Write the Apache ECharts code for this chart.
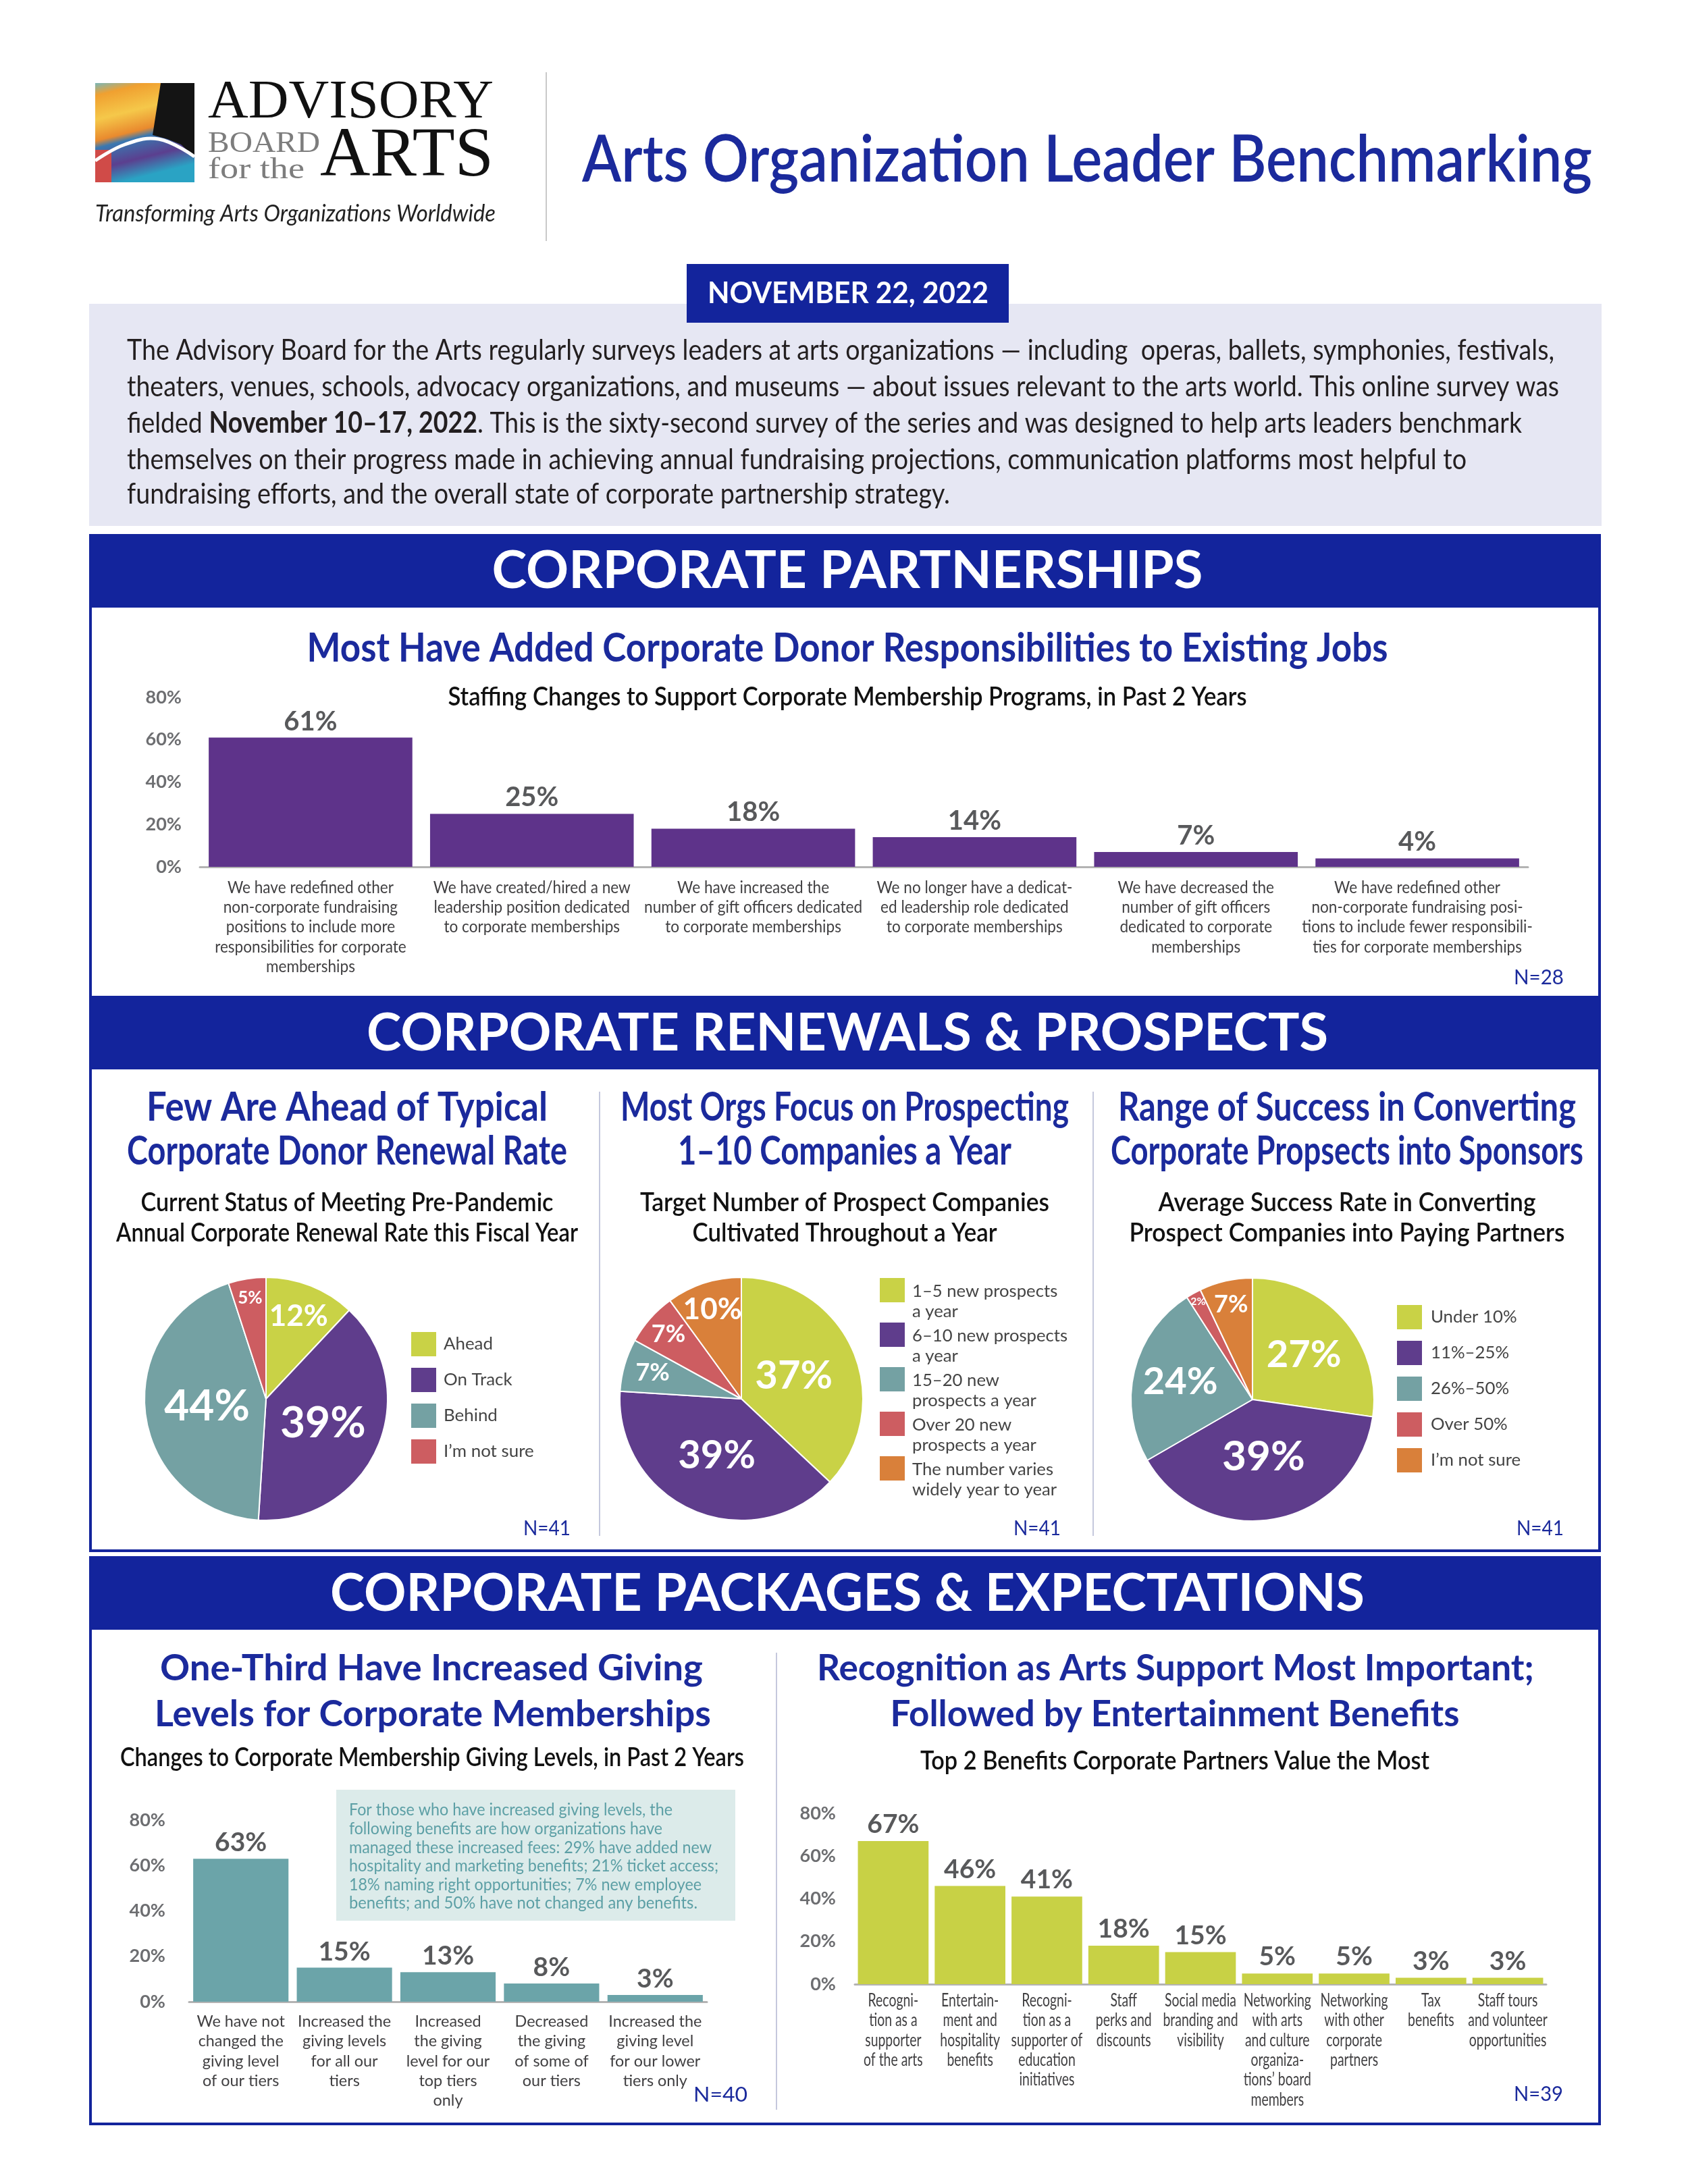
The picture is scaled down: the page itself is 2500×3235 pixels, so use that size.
<!DOCTYPE html>
<html><head><meta charset="utf-8"><title>Arts Organization Leader Benchmarking</title>
<script src="https://cdn.jsdelivr.net/npm/echarts@6/dist/echarts.min.js"></script>
<style>html,body{margin:0;padding:0;background:#fff;}#chart{width:2500px;height:3235px;}</style>
</head><body><div id="chart"></div>
<script>
// ================= DATA =================
const staffingCategories = [
  'We have redefined other\nnon-corporate fundraising\npositions to include more\nresponsibilities for corporate\nmemberships',
  'We have created/hired a new\nleadership position dedicated\nto corporate memberships',
  'We have increased the\nnumber of gift officers dedicated\nto corporate memberships',
  'We no longer have a dedicat-\ned leadership role dedicated\nto corporate memberships',
  'We have decreased the\nnumber of gift officers\ndedicated to corporate\nmemberships',
  'We have redefined other\nnon-corporate fundraising posi-\ntions to include fewer responsibili-\nties for corporate memberships'
];
const staffingValues = [61, 25, 18, 14, 7, 4];

const renewalNames = ['Ahead', 'On Track', 'Behind', 'I’m not sure'];
const renewalValues = [12, 39, 44, 5];

const prospectNames = ['1–5 new prospects\na year', '6–10 new prospects\na year', '15–20 new\nprospects a year', 'Over 20 new\nprospects a year', 'The number varies\nwidely year to year'];
const prospectValues = [37, 39, 7, 7, 10];

const successNames = ['Under 10%', '11%–25%', '26%–50%', 'Over 50%', 'I’m not sure'];
const successValues = [27, 39, 24, 2, 7];

const givingCategories = [
  'We have not\nchanged the\ngiving level\nof our tiers',
  'Increased the\ngiving levels\nfor all our\ntiers',
  'Increased\nthe giving\nlevel for our\ntop tiers\nonly',
  'Decreased\nthe giving\nof some of\nour tiers',
  'Increased the\ngiving level\nfor our lower\ntiers only'
];
const givingValues = [63, 15, 13, 8, 3];

const benefitCategories = [
  'Recogni-\ntion as a\nsupporter\nof the arts',
  'Entertain-\nment and\nhospitality\nbenefits',
  'Recogni-\ntion as a\nsupporter of\neducation\ninitiatives',
  'Staff\nperks and\ndiscounts',
  'Social media\nbranding and\nvisibility',
  'Networking\nwith arts\nand culture\norganiza-\ntions’ board\nmembers',
  'Networking\nwith other\ncorporate\npartners',
  'Tax\nbenefits',
  'Staff tours\nand volunteer\nopportunities'
];
const benefitValues = [67, 46, 41, 18, 15, 5, 5, 3, 3];

const percentAxis = { min: 0, max: 80, interval: 20 };
const sampleSizes = ['N=28', 'N=41', 'N=41', 'N=41', 'N=40', 'N=39'];

const introLines = [
  'The Advisory Board for the Arts regularly surveys leaders at arts organizations — including  operas, ballets, symphonies, festivals,',
  'theaters, venues, schools, advocacy organizations, and museums — about issues relevant to the arts world. This online survey was',
  'fielded **November 10–17, 2022**. This is the sixty-second survey of the series and was designed to help arts leaders benchmark',
  'themselves on their progress made in achieving annual fundraising projections, communication platforms most helpful to',
  'fundraising efforts, and the overall state of corporate partnership strategy.'
];
const calloutLines = [
  'For those who have increased giving levels, the',
  'following benefits are how organizations have',
  'managed these increased fees: 29% have added new',
  'hospitality and marketing benefits; 21% ticket access;',
  '18% naming right opportunities; 7% new employee',
  'benefits; and 50% have not changed any benefits.'
];

// ================= STYLE =================
const SANS = "Lato, 'Open Sans', 'Noto Sans', sans-serif";
const SERIF = "'Liberation Serif', 'DejaVu Serif', serif";
const BLUE = '#13249c', TBLUE = '#1b2a9c';
const LIME = '#c9d246', PURPLE = '#5f3d8c', TEAL = '#74a1a3', RED = '#cd5d61', ORANGE = '#d9803a';
const renewalColors = [LIME, PURPLE, TEAL, RED];
const prospectColors = [LIME, PURPLE, TEAL, RED, ORANGE];
const successColors = [LIME, PURPLE, TEAL, RED, ORANGE];

const mctx = document.createElement('canvas').getContext('2d');
function tw(text, font) { mctx.font = '10px serif'; mctx.font = font; return mctx.measureText(text).width; }
function fstr(size, weight, family, style) { return (style || 'normal') + ' ' + (weight || 'normal') + ' ' + size + 'px ' + family; }
function fitSize(text, target, maxSize, weight, family) {
  const w = tw(text, fstr(100, weight, family));
  return Math.min(maxSize, Math.round(target / w * 100 * 10) / 10);
}

// graphic text fitted to a target width (horizontal scale)
function T(text, x, y, w, size, o) {
  o = o || {};
  const font = fstr(size, o.weight, o.family || SANS, o.style);
  const sx = w ? w / tw(text, font) : (o.sx || 1);
  const al = o.align || 'center';
  return { type: 'text', x: x, y: y, scaleX: sx, scaleY: 1, originX: 0, originY: 0, z: 10, silent: true,
    style: { text: text, font: font, fill: o.color || '#222', align: al, textAlign: al, verticalAlign: 'middle', textVerticalAlign: 'middle' } };
}
function segLine(line, x, y, w, size, color) {
  const parts = line.split('**').map((t, i) => ({ text: t, bold: i % 2 === 1 })).filter(p => p.text.length);
  const fonts = parts.map(p => fstr(size, p.bold ? 'bold' : 'normal', SANS));
  const widths = parts.map((p, i) => tw(p.text, fonts[i]));
  const sx = w / widths.reduce((a, b) => a + b, 0);
  let cx = x; const out = [];
  parts.forEach((p, i) => {
    out.push({ type: 'text', x: cx, y: y, scaleX: sx, scaleY: 1, originX: 0, originY: 0, z: 10, silent: true,
      style: { text: p.text, font: fonts[i], fill: color, align: 'left', textAlign: 'left', verticalAlign: 'middle', textVerticalAlign: 'middle' } });
    cx += widths[i] * sx;
  });
  return out;
}
function rect(x, y, w, h, fill, z) { return { type: 'rect', z: z || 0, silent: true, shape: { x: x, y: y, width: w, height: h }, style: { fill: fill } }; }
function frame(x, y, w, h) { return { type: 'rect', z: 1, silent: true, shape: { x: x, y: y, width: w, height: h }, style: { fill: null, stroke: BLUE, lineWidth: 4 } }; }
function vline(x, y1, y2, color) { return { type: 'line', z: 1, silent: true, shape: { x1: x, y1: y1, x2: x, y2: y2 }, style: { stroke: color, lineWidth: 2 } }; }

// ================= GRAPHIC (page furniture) =================
const els = [];
// logo
els.push({ type: 'rect', z: 2, silent: true, shape: { x: 141, y: 123, width: 147, height: 147 },
  style: { fill: { type: 'linear', x: 0, y: 0, x2: 0.25, y2: 1, colorStops: [
    { offset: 0, color: '#79b7b9' }, { offset: 0.12, color: '#f0a030' }, { offset: 0.35, color: '#f5c84a' },
    { offset: 0.55, color: '#e98a2e' }, { offset: 0.62, color: '#3a78b0' }, { offset: 0.82, color: '#5b3f8f' }, { offset: 1, color: '#2aa3c4' }] } } });
els.push(rect(141, 222, 24, 48, '#d04b48', 3));
els.push({ type: 'polygon', z: 4, silent: true, shape: { points: [[238, 123], [288, 123], [288, 232], [268, 214], [248, 206], [226, 200]] }, style: { fill: '#141414' } });
els.push({ type: 'polyline', z: 5, silent: true, shape: { points: [[141, 238], [185, 214], [235, 206], [288, 232]], smooth: 0.4 }, style: { stroke: '#fff', lineWidth: 5, fill: null } });
els.push(T('ADVISORY', 308, 153, 423, 80, { family: SERIF, color: '#111', align: 'left' }));
els.push(T('BOARD', 308, 213, 166, 45, { family: SERIF, color: '#7d7d7d', align: 'left' }));
els.push(T('for the', 308, 252, 143, 45, { family: SERIF, color: '#7d7d7d', align: 'left' }));
els.push(T('ARTS', 474, 233, 257, 103, { family: SERIF, color: '#111', align: 'left' }));
els.push(T('Transforming Arts Organizations Worldwide', 141, 317, 593, 34, { style: 'italic', color: '#222', align: 'left' }));
els.push(vline(809, 107, 357, '#c9c9c9'));
els.push(T('Arts Organization Leader Benchmarking', 862, 238, 1496, 96, { weight: 600, color: TBLUE, align: 'left' }));

// intro
els.push(rect(132, 450, 2240, 329, '#e6e7f3', 0));
els.push(rect(1017, 391, 477, 87, BLUE, 6));
els.push(T('NOVEMBER 22, 2022', 1256, 435, 416, 43, { weight: 'bold', color: '#fff' }));
const introY = [519, 573, 627, 681, 732];
const introW = [2114, 2121, 2066, 1984, 1219];
introLines.forEach((l, i) => segLine(l, 188, introY[i], introW[i], 43, '#231f20').forEach(e => els.push(e)));

// section bands + frames
const bands = [
  { y: 793, h: 107, frameH: 685, title: 'CORPORATE PARTNERSHIPS', tw: 1053, ty: 846 },
  { y: 1477, h: 107, frameH: 820, title: 'CORPORATE RENEWALS & PROSPECTS', tw: 1424, ty: 1531 },
  { y: 2307, h: 107, frameH: 839, title: 'CORPORATE PACKAGES & EXPECTATIONS', tw: 1532, ty: 2361 }
];
bands.forEach(b => {
  els.push(frame(134, b.y, 2235, b.frameH));
  els.push(rect(132, b.y, 2239, b.h, BLUE, 2));
  els.push(T(b.title, 1255, b.ty, b.tw, 77, { weight: 'bold', color: '#fff' }));
});

// section 1 texts
els.push(T('Most Have Added Corporate Donor Responsibilities to Existing Jobs', 1255, 961, 1601, 60, { weight: 'bold', color: TBLUE }));
els.push(T('Staffing Changes to Support Corporate Membership Programs, in Past 2 Years', 1255, 1033, 1183, 38, { weight: 600, color: '#111' }));
els.push(T(sampleSizes[0], 2316, 1448, 74, 30, { color: TBLUE, align: 'right' }));

// section 2 texts
els.push(vline(888, 1617, 2275, '#c5c8dd'));
els.push(vline(1619, 1617, 2275, '#c5c8dd'));
const sec2 = [
  { cx: 514, t: ['Few Are Ahead of Typical', 'Corporate Donor Renewal Rate'], tw: [594, 652], s: ['Current Status of Meeting Pre-Pandemic', 'Annual Corporate Renewal Rate this Fiscal Year'], sw: [611, 684], n: sampleSizes[1], nx: 845 },
  { cx: 1251, t: ['Most Orgs Focus on Prospecting', '1–10 Companies a Year'], tw: [664, 494], s: ['Target Number of Prospect Companies', 'Cultivated Throughout a Year'], sw: [606, 451], n: sampleSizes[2], nx: 1571 },
  { cx: 1995, t: ['Range of Success in Converting', 'Corporate Propsects into Sponsors'], tw: [678, 700], s: ['Average Success Rate in Converting', 'Prospect Companies into Paying Partners'], sw: [559, 645], n: sampleSizes[3], nx: 2316 }
];
sec2.forEach(c => {
  els.push(T(c.t[0], c.cx, 1641, c.tw[0], 60, { weight: 'bold', color: TBLUE }));
  els.push(T(c.t[1], c.cx, 1706, c.tw[1], 60, { weight: 'bold', color: TBLUE }));
  els.push(T(c.s[0], c.cx, 1782, c.sw[0], 38, { weight: 600, color: '#111' }));
  els.push(T(c.s[1], c.cx, 1827, c.sw[1], 38, { weight: 600, color: '#111' }));
  els.push(T(c.n, c.nx, 2264, 70, 30, { color: TBLUE, align: 'right' }));
});

// section 3 texts
els.push(vline(1150, 2448, 3125, '#c5c8dd'));
els.push(T('One-Third Have Increased Giving', 639, 2472, 804, 54, { weight: 'bold', color: TBLUE }));
els.push(T('Levels for Corporate Memberships', 641, 2540, 824, 54, { weight: 'bold', color: TBLUE }));
els.push(T('Changes to Corporate Membership Giving Levels, in Past 2 Years', 640, 2604, 924, 38, { weight: 600, color: '#111' }));
els.push(T('Recognition as Arts Support Most Important;', 1741, 2472, 1062, 54, { weight: 'bold', color: TBLUE }));
els.push(T('Followed by Entertainment Benefits', 1740, 2540, 843, 54, { weight: 'bold', color: TBLUE }));
els.push(T('Top 2 Benefits Corporate Partners Value the Most', 1740, 2609, 754, 38, { weight: 600, color: '#111' }));
els.push(rect(498, 2651, 591, 194, '#dcebea', 3));
const calloutY = [2681, 2709, 2737, 2764, 2792, 2819];
const calloutW = [479, 464, 537, 547, 522, 516];
calloutLines.forEach((l, i) => els.push(T(l, 517, calloutY[i], calloutW[i], 25, { color: '#5c9fa5', align: 'left' })));
els.push(T(sampleSizes[4], 1107, 3103, 80, 30, { color: TBLUE, align: 'right' }));
els.push(T(sampleSizes[5], 2315, 3102, 73, 30, { color: TBLUE, align: 'right' }));

// ================= CHARTS =================
const catColor = '#414042', valColor = '#58595b', axisColor = '#6d6e71';
const bCatSize = fitSize('Increased the', 138, 27, 'normal', SANS);
const legSize1 = fitSize('I’m not sure', 134, 28, 'normal', SANS);
const legSize2 = fitSize('The number varies', 209, 28, 'normal', SANS);
const legSize3 = fitSize('I’m not sure', 133, 28, 'normal', SANS);

const grids = [
  { left: 296, top: 1033, width: 1967, height: 251 },
  { left: 280, top: 2696, width: 767, height: 269 },
  { left: 1266, top: 2686, width: 1024, height: 253 }
].map(g => Object.assign({ containLabel: false, outerBoundsMode: 'none' }, g));

// condensed category labels (charts 0 and 2) are set as scaled text at the axis' own category positions
const barDefs = [
  { cats: staffingCategories, vals: staffingValues, color: '#5e338a', native: false, margin: 16, yMargin: 27, valSize: 40, dist: 4,
    condSize: 25, refText: 'We have redefined other', refW: 246 },
  { cats: givingCategories, vals: givingValues, color: '#6ba4a9', native: true, margin: 15, yMargin: 35, valSize: 39, dist: 4 },
  { cats: benefitCategories, vals: benefitValues, color: '#c8d145', native: false, margin: 10, yMargin: 28, valSize: 39, dist: 5,
    condSize: 26, refText: 'Social media', refW: 106 }
];
const LH = 29.3;

const xAxis = barDefs.map((d, i) => ({
  type: 'category', gridIndex: i, data: d.cats,
  axisTick: { show: false }, splitLine: { show: false },
  axisLine: { show: true, lineStyle: { color: '#b3b3b3', width: 3 } },
  axisLabel: { show: d.native, interval: 0, hideOverlap: false, margin: d.margin, fontSize: bCatSize, lineHeight: LH, color: catColor, fontFamily: SANS }
}));
const yAxis = barDefs.map((d, i) => ({
  type: 'value', gridIndex: i, min: percentAxis.min, max: percentAxis.max, interval: percentAxis.interval,
  splitLine: { show: false }, axisLine: { show: false }, axisTick: { show: false },
  axisLabel: { formatter: '{value}%', margin: d.yMargin, fontSize: 27, fontWeight: 'bold', color: axisColor, fontFamily: SANS }
}));
const barSeries = barDefs.map((d, i) => ({
  type: 'bar', xAxisIndex: i, yAxisIndex: i, data: d.vals, barCategoryGap: '8%', silent: true,
  itemStyle: { color: d.color },
  label: { show: true, position: 'top', distance: d.dist, formatter: '{c}%', fontSize: d.valSize, fontWeight: 'bold', color: valColor, fontFamily: SANS, textBorderWidth: 0 }
}));

const PIE_R = 180;
// label anchor for each slice: along the slice's mid-angle at a fraction k of the radius
function pieLabelPos(center, values, ks) {
  const total = values.reduce((a, b) => a + b, 0); let acc = 0;
  return values.map((v, i) => {
    const mid = (acc + v / 2) / total * Math.PI * 2; acc += v;
    return { x: center[0] + Math.sin(mid) * ks[i] * PIE_R, y: center[1] - Math.cos(mid) * ks[i] * PIE_R, align: 'center', verticalAlign: 'middle' };
  });
}
const pieDefs = [
  { names: renewalNames, vals: renewalValues, colors: renewalColors, center: [394, 2072], ks: [0.73, 0.51, 0.49, 0.84], sizes: [44, 64, 64, 26] },
  { names: prospectNames, vals: prospectValues, colors: prospectColors, center: [1098, 2072], ks: [0.47, 0.51, 0.76, 0.80, 0.77], sizes: [58, 58, 36, 36, 44] },
  { names: successNames, vals: successValues, colors: successColors, center: [1855, 2073], ks: [0.56, 0.48, 0.61, 0.92, 0.80], sizes: [56, 62, 56, 16, 36] }
];
const pieSeries = pieDefs.map(p => {
  const pos = pieLabelPos(p.center, p.vals, p.ks);
  return {
    type: 'pie', center: p.center, radius: PIE_R, startAngle: 90, clockwise: true, silent: true, avoidLabelOverlap: false,
    itemStyle: { borderColor: '#fff', borderWidth: 2 },
    label: { show: true, position: 'inside', formatter: '{c}%', color: '#fff', fontWeight: 'bold', fontFamily: SANS, textBorderWidth: 0 },
    labelLine: { show: false },
    labelLayout: prm => pos[prm.dataIndex],
    emphasis: { disabled: true },
    data: p.vals.map((v, i) => ({ value: v, name: p.names[i], itemStyle: { color: p.colors[i] }, label: { fontSize: p.sizes[i] } }))
  };
});

function legendFor(p, left, top, gap, size, o) {
  o = o || {};
  return {
    orient: 'vertical', left: left, top: top, padding: 0, itemGap: gap, itemWidth: 37, itemHeight: o.h || 36,
    icon: o.icon || 'rect', selectedMode: false, itemStyle: { borderWidth: 0 },
    data: p.names.map((n, i) => ({ name: n, itemStyle: { color: p.colors[i], borderWidth: 0 } })),
    textStyle: { fontSize: size, lineHeight: 30, color: '#444', fontFamily: SANS, padding: [0, 0, 0, o.padL || 6] }
  };
}
const legends = [
  legendFor(pieDefs[0], 609, 1973, 17, legSize1),
  // square sits at the top of a taller icon box so that two-line labels start level with it
  legendFor(pieDefs[1], 1303, 1893, -3, legSize2, { h: 69, icon: 'path://M0,0L37,0L37,36L0,36Z M0,69L0.01,69' }),
  legendFor(pieDefs[2], 2069, 1933, 17, legSize3, { padL: 8 })
];

const chart = echarts.init(document.getElementById('chart'), null, { renderer: 'canvas' });
chart.setOption({
  animation: false,
  backgroundColor: '#ffffff',
  textStyle: { fontFamily: SANS },
  tooltip: { show: false },
  grid: grids,
  xAxis: xAxis,
  yAxis: yAxis,
  legend: legends,
  series: barSeries.concat(pieSeries)
});

// category labels for the condensed axes, placed at the axis' own category positions
barDefs.forEach((d, ai) => {
  if (d.native) return;
  const font = fstr(d.condSize, 'normal', SANS);
  const sx = d.refW / tw(d.refText, font);
  const y0 = chart.convertToPixel({ yAxisIndex: ai }, percentAxis.min);
  d.cats.forEach((c, ci) => {
    const x = chart.convertToPixel({ xAxisIndex: ai }, ci);
    c.split('\n').forEach((line, j) => {
      els.push({ type: 'text', x: x, y: y0 + d.margin + LH * (j + 0.5), scaleX: sx, scaleY: 1, originX: 0, originY: 0, z: 10, silent: true,
        style: { text: line, font: font, fill: catColor, align: 'center', textAlign: 'center', verticalAlign: 'middle', textVerticalAlign: 'middle' } });
    });
  });
});
chart.setOption({ graphic: { elements: els } });
</script></body></html>
